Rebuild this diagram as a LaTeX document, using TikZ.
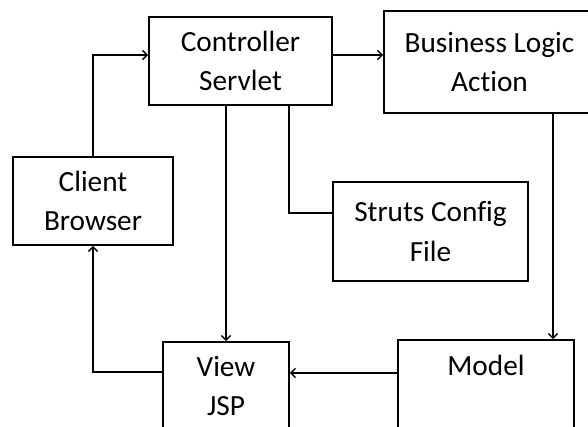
\documentclass[tikz,border=0pt]{standalone}
\usepackage{fontspec}
\setmainfont{Carlito}[Ligatures=NoCommon]
\usetikzlibrary{arrows.meta,calc}

\tikzset{
  box/.style={draw, line width=1.4pt, align=center, inner sep=0pt,
    font=\fontsize{25}{34}\selectfont},
  link/.style={draw, line width=1.4pt},
  arr/.style={link, -{Straight Barb[length=4pt,width=8pt,line width=1.2pt]}}
}

\begin{document}
\begin{tikzpicture}[x=0.03cm,y=-0.03cm]
\useasboundingbox (0,0) rectangle (588,427);
\clip (0,0) rectangle (588,427);

\node[box, minimum width=5.49cm, minimum height=2.64cm] (ctrl) at (240.5,61) {Controller\\Servlet};
\node[box, minimum width=6.33cm, minimum height=3.06cm] (biz) at (489.5,62) {Business Logic\\Action};
\node[box, minimum width=4.8cm, minimum height=2.64cm] (client) at (93,201) {Client\\Browser};
\node[box, minimum width=5.85cm, minimum height=2.97cm] (struts) at (430.5,231.5) {Struts Config\\File};
\node[box, minimum width=3.78cm, minimum height=2.64cm] (view) at (226,386) {View\\JSP};
\node[box, minimum width=5.28cm, minimum height=3.06cm] (model) at (486,391) {Model\\\strut};

\coordinate (bm) at ($(biz.south)+(63.5,0)$);
\coordinate (mv) at ($(model.west)+(0,-18)$);

\draw[arr] (client.north) |- ($(ctrl.west)+(0,-6)$);
\draw[arr] ($(ctrl.east)+(0,-6)$) -- ($(biz.west)+(0,-7)$);
\draw[arr] (view.north |- ctrl.south) -- (view.north);
\draw[link] ($(ctrl.south)+(48.5,0)$) |- ($(struts.west)+(0,-18.5)$);
\draw[arr] (bm) -- (bm |- model.north);
\draw[arr] (mv) -- (mv -| view.east);
\draw[arr] ($(view.west)+(0,-14)$) -| (client.south);

\end{tikzpicture}
\end{document}
